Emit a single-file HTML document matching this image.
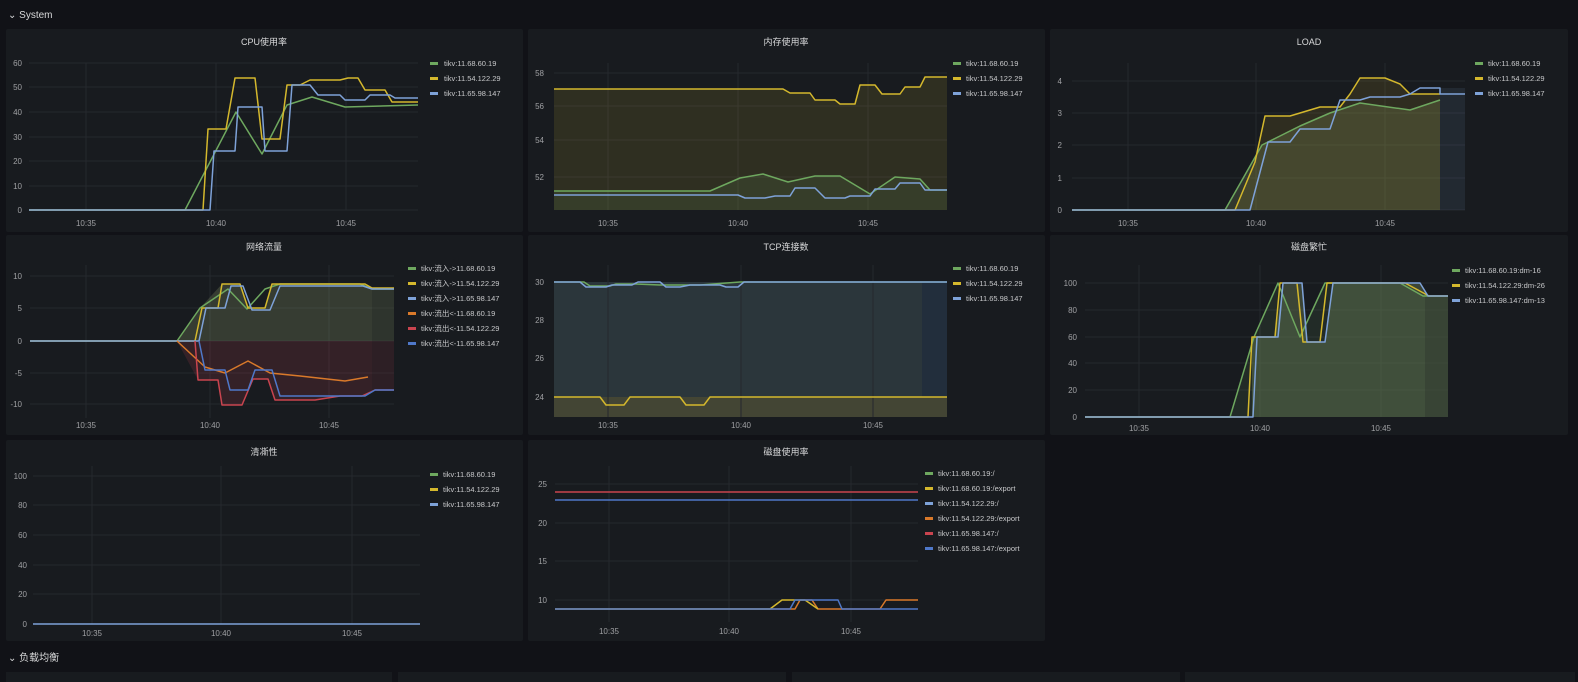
<!DOCTYPE html>
<html><head><meta charset="utf-8"><style>
html,body{margin:0;padding:0;background:#111217;width:1578px;height:682px;overflow:hidden}
svg{display:block}
text{font-family:"Liberation Sans","Noto Sans CJK SC",sans-serif}
.t{fill:#d8d9da;font-size:9px;text-anchor:middle}
.y{fill:#9fa0a3;font-size:8px;text-anchor:end}
.x{fill:#9fa0a3;font-size:8px;text-anchor:middle}
.l{fill:#c7c8ca;font-size:7.5px}
.g{stroke:#25282e;stroke-width:1}
polyline{fill:none;stroke-width:1.5;stroke-linejoin:round}
</style></head><body>
<svg width="1578" height="682" viewBox="0 0 1578 682">
<rect width="1578" height="682" fill="#111217"/>
<text x="8" y="18" fill="#d8d9da" font-size="10">⌄ System</text>
<!-- panels -->
<g fill="#181b1f">
<rect x="6" y="29" width="517" height="203" rx="2"/>
<rect x="528" y="29" width="517" height="203" rx="2"/>
<rect x="1050" y="29" width="518" height="203" rx="2"/>
<rect x="6" y="235" width="517" height="200" rx="2"/>
<rect x="528" y="235" width="517" height="200" rx="2"/>
<rect x="1050" y="235" width="518" height="200" rx="2"/>
<rect x="6" y="440" width="517" height="201" rx="2"/>
<rect x="528" y="440" width="517" height="201" rx="2"/>
<rect x="6" y="672" width="386" height="12"/>
<rect x="398" y="672" width="388" height="12"/>
<rect x="792" y="672" width="388" height="12"/>
<rect x="1185" y="672" width="390" height="12"/>
</g>
<text x="8" y="661" fill="#d8d9da" font-size="10">⌄ 负载均衡</text>

<!-- CPU -->
<text class="t" x="264" y="45">CPU使用率</text>
<g class="g"><line x1="29" y1="63" x2="418" y2="63"/><line x1="29" y1="87" x2="418" y2="87"/><line x1="29" y1="112" x2="418" y2="112"/><line x1="29" y1="137" x2="418" y2="137"/><line x1="29" y1="161" x2="418" y2="161"/><line x1="29" y1="186" x2="418" y2="186"/><line x1="29" y1="210" x2="418" y2="210"/><line x1="86" y1="63" x2="86" y2="210"/><line x1="216" y1="63" x2="216" y2="210"/><line x1="346" y1="63" x2="346" y2="210"/></g>
<text class="y" x="22" y="66">60</text><text class="y" x="22" y="90">50</text><text class="y" x="22" y="115">40</text><text class="y" x="22" y="140">30</text><text class="y" x="22" y="164">20</text><text class="y" x="22" y="189">10</text><text class="y" x="22" y="213">0</text>
<text class="x" x="86" y="226">10:35</text><text class="x" x="216" y="226">10:40</text><text class="x" x="346" y="226">10:45</text>
<polyline stroke="#6ea85f" points="29,210 185,210 236,112 262,154 287,105 312,97 345,107 418,105"/>
<polyline stroke="#d4b82d" points="29,210 203,210 208,129 226,129 235,78 255,78 262,139 280,139 287,85 300,85 310,80 340,80 348,78 358,78 365,90 385,90 392,102 418,102"/>
<polyline stroke="#7ea2d8" points="29,210 210,210 214,151 235,151 238,107 262,107 265,151 287,151 292,85 310,85 318,95 340,95 345,100 365,100 370,95 390,95 395,98 418,98"/>
<rect x="430" y="62" width="8" height="3" fill="#6ea85f"/><text class="l" x="444" y="66">tikv:11.68.60.19</text>
<rect x="430" y="77" width="8" height="3" fill="#d4b82d"/><text class="l" x="444" y="81">tikv:11.54.122.29</text>
<rect x="430" y="92" width="8" height="3" fill="#7ea2d8"/><text class="l" x="444" y="96">tikv:11.65.98.147</text>

<!-- Memory -->
<text class="t" x="786" y="45">内存使用率</text>
<g class="g"><line x1="554" y1="73" x2="947" y2="73"/><line x1="554" y1="106" x2="947" y2="106"/><line x1="554" y1="140" x2="947" y2="140"/><line x1="554" y1="177" x2="947" y2="177"/><line x1="608" y1="63" x2="608" y2="210"/><line x1="738" y1="63" x2="738" y2="210"/><line x1="868" y1="63" x2="868" y2="210"/></g>
<text class="y" x="544" y="76">58</text><text class="y" x="544" y="109">56</text><text class="y" x="544" y="143">54</text><text class="y" x="544" y="180">52</text>
<text class="x" x="608" y="226">10:35</text><text class="x" x="738" y="226">10:40</text><text class="x" x="868" y="226">10:45</text>
<polygon fill="#d4b82d" fill-opacity="0.13" points="554,210 554,89 783,89 790,93 810,93 815,100 835,100 840,104 855,104 860,85 875,85 882,94 900,94 905,87 920,87 925,77 947,77 947,210"/>
<polygon fill="#6ea85f" fill-opacity="0.12" points="554,210 554,191 710,191 740,178 763,174 788,182 815,176 840,176 870,194 895,177 920,179 930,190 947,190 947,210"/>
<polyline stroke="#d4b82d" points="554,89 783,89 790,93 810,93 815,100 835,100 840,104 855,104 860,85 875,85 882,94 900,94 905,87 920,87 925,77 947,77"/>
<polyline stroke="#6ea85f" points="554,191 710,191 740,178 763,174 788,182 815,176 840,176 870,194 895,177 920,179 930,190 947,190"/>
<polyline stroke="#7ea2d8" points="554,195 738,195 745,198 765,198 775,196 790,196 795,188 815,188 825,198 845,198 850,196 870,196 875,189 895,189 900,183 920,183 925,190 947,190"/>
<rect x="953" y="62" width="8" height="3" fill="#6ea85f"/><text class="l" x="966" y="66">tikv:11.68.60.19</text>
<rect x="953" y="77" width="8" height="3" fill="#d4b82d"/><text class="l" x="966" y="81">tikv:11.54.122.29</text>
<rect x="953" y="92" width="8" height="3" fill="#7ea2d8"/><text class="l" x="966" y="96">tikv:11.65.98.147</text>

<!-- LOAD -->
<text class="t" x="1309" y="45">LOAD</text>
<g class="g"><line x1="1072" y1="81" x2="1465" y2="81"/><line x1="1072" y1="113" x2="1465" y2="113"/><line x1="1072" y1="145" x2="1465" y2="145"/><line x1="1072" y1="178" x2="1465" y2="178"/><line x1="1072" y1="210" x2="1465" y2="210"/><line x1="1128" y1="63" x2="1128" y2="210"/><line x1="1256" y1="63" x2="1256" y2="210"/><line x1="1385" y1="63" x2="1385" y2="210"/></g>
<text class="y" x="1062" y="84">4</text><text class="y" x="1062" y="116">3</text><text class="y" x="1062" y="148">2</text><text class="y" x="1062" y="181">1</text><text class="y" x="1062" y="213">0</text>
<text class="x" x="1128" y="226">10:35</text><text class="x" x="1256" y="226">10:40</text><text class="x" x="1385" y="226">10:45</text>
<polygon fill="#8fa06a" fill-opacity="0.22" points="1225,210 1262,145 1280,136 1300,126 1330,113 1360,103 1410,110 1440,100 1440,210"/>
<polygon fill="#d4b82d" fill-opacity="0.12" points="1235,210 1255,162 1265,116 1290,116 1300,113 1320,107 1340,107 1350,94 1360,78 1385,78 1400,84 1410,94 1440,94 1440,210"/>
<rect x="1440" y="88" width="25" height="122" fill="#7ea2d8" fill-opacity="0.1"/>
<polyline stroke="#6ea85f" points="1072,210 1225,210 1262,145 1280,136 1300,126 1330,113 1360,103 1410,110 1440,100"/>
<polyline stroke="#d4b82d" points="1072,210 1235,210 1255,162 1265,116 1290,116 1300,113 1320,107 1340,107 1350,94 1360,78 1385,78 1400,84 1410,94 1440,94"/>
<polyline stroke="#7ea2d8" points="1072,210 1250,210 1268,142 1290,142 1300,129 1330,129 1340,100 1360,100 1370,97 1400,97 1410,94 1420,88 1440,88 1440,94 1465,94"/>
<rect x="1475" y="62" width="8" height="3" fill="#6ea85f"/><text class="l" x="1488" y="66">tikv:11.68.60.19</text>
<rect x="1475" y="77" width="8" height="3" fill="#d4b82d"/><text class="l" x="1488" y="81">tikv:11.54.122.29</text>
<rect x="1475" y="92" width="8" height="3" fill="#7ea2d8"/><text class="l" x="1488" y="96">tikv:11.65.98.147</text>

<!-- Network -->
<text class="t" x="264" y="250">网络流量</text>
<g class="g"><line x1="30" y1="276" x2="394" y2="276"/><line x1="30" y1="308" x2="394" y2="308"/><line x1="30" y1="341" x2="394" y2="341"/><line x1="30" y1="373" x2="394" y2="373"/><line x1="30" y1="404" x2="394" y2="404"/><line x1="86" y1="265" x2="86" y2="418"/><line x1="210" y1="265" x2="210" y2="418"/><line x1="329" y1="265" x2="329" y2="418"/></g>
<text class="y" x="22" y="279">10</text><text class="y" x="22" y="311">5</text><text class="y" x="22" y="344">0</text><text class="y" x="22" y="376">-5</text><text class="y" x="22" y="407">-10</text>
<text class="x" x="86" y="428">10:35</text><text class="x" x="210" y="428">10:40</text><text class="x" x="329" y="428">10:45</text>
<polygon fill="#8fa06a" fill-opacity="0.25" points="177,341 200,308 222,284 240,284 248,308 265,308 272,284 365,284 372,288 394,288 394,341"/>
<polygon fill="#c9444f" fill-opacity="0.16" points="177,341 198,380 218,380 222,405 242,405 253,379 268,379 275,400 315,400 340,396 362,396 375,390 394,390 394,341"/>
<rect x="372" y="288" width="22" height="102" fill="#181b1f" fill-opacity="0.25"/>
<polyline stroke="#6ea85f" points="30,341 177,341 200,308 228,289 247,309 265,289 280,284 360,284 372,289 394,289"/>
<polyline stroke="#d4b82d" points="30,341 195,341 202,308 218,308 222,284 240,284 248,308 265,308 272,284 365,284 372,288 394,288"/>
<polyline stroke="#7ea2d8" points="30,341 199,341 206,308 225,308 231,286 243,286 252,310 270,310 280,286 363,286 372,289 394,289"/>
<polyline stroke="#d9792a" points="177,341 205,367 225,373 248,361 270,373 300,376 345,381 368,377"/>
<polyline stroke="#c9444f" points="195,341 198,380 218,380 222,405 242,405 253,379 268,379 275,400 315,400 340,396 362,396 375,390 394,390"/>
<polyline stroke="#4f78c9" points="199,341 205,370 225,370 230,390 248,390 255,370 272,370 280,396 360,396 365,396 375,390 394,390"/>
<rect x="408" y="267" width="8" height="3" fill="#6ea85f"/><text class="l" x="421" y="271">tikv:流入-&gt;11.68.60.19</text>
<rect x="408" y="282" width="8" height="3" fill="#d4b82d"/><text class="l" x="421" y="286">tikv:流入-&gt;11.54.122.29</text>
<rect x="408" y="297" width="8" height="3" fill="#7ea2d8"/><text class="l" x="421" y="301">tikv:流入-&gt;11.65.98.147</text>
<rect x="408" y="312" width="8" height="3" fill="#d9792a"/><text class="l" x="421" y="316">tikv:流出&lt;-11.68.60.19</text>
<rect x="408" y="327" width="8" height="3" fill="#c9444f"/><text class="l" x="421" y="331">tikv:流出&lt;-11.54.122.29</text>
<rect x="408" y="342" width="8" height="3" fill="#4f78c9"/><text class="l" x="421" y="346">tikv:流出&lt;-11.65.98.147</text>

<!-- TCP -->
<text class="t" x="786" y="250">TCP连接数</text>
<rect x="554" y="282" width="393" height="135" fill="#3c4d52" fill-opacity="0.55"/>
<rect x="554" y="397" width="393" height="20" fill="#4a4a33" fill-opacity="0.8"/>
<rect x="922" y="282" width="25" height="115" fill="#1f2b3d" fill-opacity="0.7"/>
<g class="g"><line x1="608" y1="265" x2="608" y2="417"/><line x1="741" y1="265" x2="741" y2="417"/><line x1="873" y1="265" x2="873" y2="417"/></g>
<text class="y" x="544" y="285">30</text><text class="y" x="544" y="323">28</text><text class="y" x="544" y="361">26</text><text class="y" x="544" y="400">24</text>
<text class="x" x="608" y="428">10:35</text><text class="x" x="741" y="428">10:40</text><text class="x" x="873" y="428">10:45</text>
<polyline stroke="#6ea85f" points="554,282 584,282 590,286 610,286 616,284 636,284 660,285 700,285 740,282 947,282"/>
<polyline stroke="#7ea2d8" points="554,282 580,282 586,287 606,287 612,285 632,285 638,282 660,282 666,287 680,287 690,285 720,285 726,287 738,287 744,282 947,282"/>
<polyline stroke="#d4b82d" points="554,397 600,397 606,405 624,405 630,397 680,397 686,405 704,405 710,397 947,397"/>
<rect x="953" y="267" width="8" height="3" fill="#6ea85f"/><text class="l" x="966" y="271">tikv:11.68.60.19</text>
<rect x="953" y="282" width="8" height="3" fill="#d4b82d"/><text class="l" x="966" y="286">tikv:11.54.122.29</text>
<rect x="953" y="297" width="8" height="3" fill="#7ea2d8"/><text class="l" x="966" y="301">tikv:11.65.98.147</text>

<!-- Disk busy -->
<text class="t" x="1309" y="250">磁盘繁忙</text>
<g class="g"><line x1="1085" y1="283" x2="1448" y2="283"/><line x1="1085" y1="310" x2="1448" y2="310"/><line x1="1085" y1="337" x2="1448" y2="337"/><line x1="1085" y1="363" x2="1448" y2="363"/><line x1="1085" y1="390" x2="1448" y2="390"/><line x1="1139" y1="265" x2="1139" y2="417"/><line x1="1260" y1="265" x2="1260" y2="417"/><line x1="1381" y1="265" x2="1381" y2="417"/></g>
<text class="y" x="1077" y="286">100</text><text class="y" x="1077" y="313">80</text><text class="y" x="1077" y="340">60</text><text class="y" x="1077" y="366">40</text><text class="y" x="1077" y="393">20</text><text class="y" x="1077" y="420">0</text>
<text class="x" x="1139" y="431">10:35</text><text class="x" x="1260" y="431">10:40</text><text class="x" x="1381" y="431">10:45</text>
<polygon fill="#5a6648" fill-opacity="0.55" points="1252,417 1252,337 1275,337 1283,283 1302,283 1307,342 1325,342 1333,283 1420,283 1428,296 1448,296 1448,417"/>
<polygon fill="#6ea85f" fill-opacity="0.12" points="1230,417 1254,337 1278,283 1300,337 1325,283 1400,283 1423,296 1448,296 1448,417"/>
<rect x="1425" y="296" width="23" height="121" fill="#181b1f" fill-opacity="0.2"/>
<polyline stroke="#6ea85f" points="1085,417 1230,417 1254,337 1278,283 1300,337 1325,283 1400,283 1423,296 1448,296"/>
<polyline stroke="#d4b82d" points="1085,417 1248,417 1252,337 1275,337 1280,283 1297,283 1303,342 1320,342 1327,283 1405,283 1429,296 1448,296"/>
<polyline stroke="#7ea2d8" points="1085,417 1253,417 1257,337 1278,337 1283,283 1302,283 1307,342 1325,342 1333,283 1420,283 1428,296 1448,296"/>
<rect x="1452" y="269" width="8" height="3" fill="#6ea85f"/><text class="l" x="1465" y="273">tikv:11.68.60.19:dm-16</text>
<rect x="1452" y="284" width="8" height="3" fill="#d4b82d"/><text class="l" x="1465" y="288">tikv:11.54.122.29:dm-26</text>
<rect x="1452" y="299" width="8" height="3" fill="#7ea2d8"/><text class="l" x="1465" y="303">tikv:11.65.98.147:dm-13</text>

<!-- Availability -->
<text class="t" x="264" y="455">清凘性</text>
<g class="g"><line x1="33" y1="476" x2="420" y2="476"/><line x1="33" y1="505" x2="420" y2="505"/><line x1="33" y1="535" x2="420" y2="535"/><line x1="33" y1="565" x2="420" y2="565"/><line x1="33" y1="594" x2="420" y2="594"/><line x1="92" y1="466" x2="92" y2="624"/><line x1="221" y1="466" x2="221" y2="624"/><line x1="352" y1="466" x2="352" y2="624"/></g>
<text class="y" x="27" y="479">100</text><text class="y" x="27" y="508">80</text><text class="y" x="27" y="538">60</text><text class="y" x="27" y="568">40</text><text class="y" x="27" y="597">20</text><text class="y" x="27" y="627">0</text>
<text class="x" x="92" y="636">10:35</text><text class="x" x="221" y="636">10:40</text><text class="x" x="352" y="636">10:45</text>
<polyline stroke="#7ea2d8" points="33,624 420,624"/>
<rect x="430" y="473" width="8" height="3" fill="#6ea85f"/><text class="l" x="443" y="477">tikv:11.68.60.19</text>
<rect x="430" y="488" width="8" height="3" fill="#d4b82d"/><text class="l" x="443" y="492">tikv:11.54.122.29</text>
<rect x="430" y="503" width="8" height="3" fill="#7ea2d8"/><text class="l" x="443" y="507">tikv:11.65.98.147</text>

<!-- Disk usage -->
<text class="t" x="786" y="455">磁盘使用率</text>
<g class="g"><line x1="555" y1="484" x2="918" y2="484"/><line x1="555" y1="523" x2="918" y2="523"/><line x1="555" y1="561" x2="918" y2="561"/><line x1="555" y1="600" x2="918" y2="600"/><line x1="609" y1="466" x2="609" y2="622"/><line x1="729" y1="466" x2="729" y2="622"/><line x1="851" y1="466" x2="851" y2="622"/></g>
<text class="y" x="547" y="487">25</text><text class="y" x="547" y="526">20</text><text class="y" x="547" y="564">15</text><text class="y" x="547" y="603">10</text>
<text class="x" x="609" y="634">10:35</text><text class="x" x="729" y="634">10:40</text><text class="x" x="851" y="634">10:45</text>
<polyline stroke="#c9444f" points="555,492 918,492"/>
<polyline stroke="#4f78c9" stroke-width="2" points="555,500 918,500"/>
<polyline stroke="#d9792a" points="555,609 795,609 800,600 812,600 818,609 880,609 886,600 918,600"/>
<polyline stroke="#d4b82d" points="555,609 770,609 782,600 805,600 818,609"/>
<polyline stroke="#4f78c9" points="555,609 790,609 795,600 838,600 842,609 918,609"/>
<rect x="925" y="472" width="8" height="3" fill="#6ea85f"/><text class="l" x="938" y="476">tikv:11.68.60.19:/</text>
<rect x="925" y="487" width="8" height="3" fill="#d4b82d"/><text class="l" x="938" y="491">tikv:11.68.60.19:/export</text>
<rect x="925" y="502" width="8" height="3" fill="#7ea2d8"/><text class="l" x="938" y="506">tikv:11.54.122.29:/</text>
<rect x="925" y="517" width="8" height="3" fill="#d9792a"/><text class="l" x="938" y="521">tikv:11.54.122.29:/export</text>
<rect x="925" y="532" width="8" height="3" fill="#c9444f"/><text class="l" x="938" y="536">tikv:11.65.98.147:/</text>
<rect x="925" y="547" width="8" height="3" fill="#4f78c9"/><text class="l" x="938" y="551">tikv:11.65.98.147:/export</text>
</svg>
</body></html>
